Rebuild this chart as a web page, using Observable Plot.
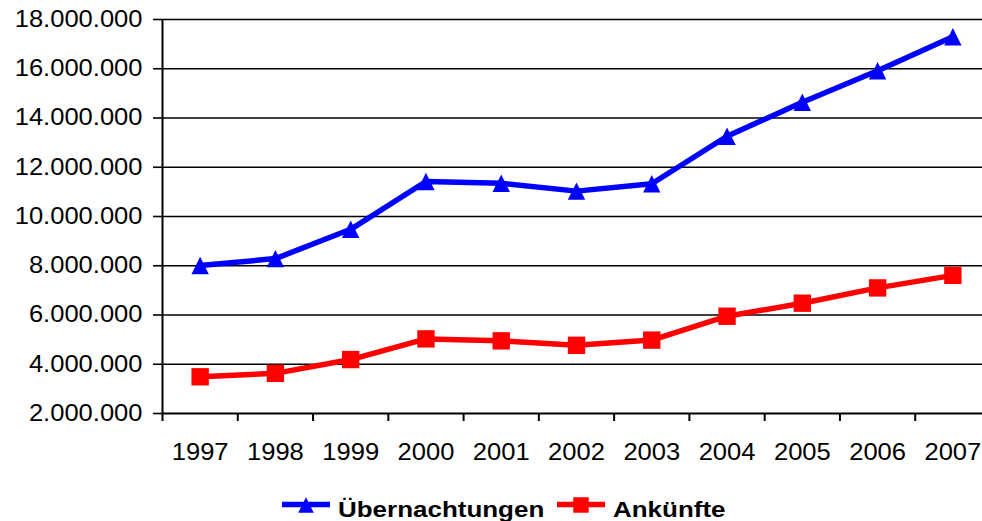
<!DOCTYPE html>
<html><head><meta charset="utf-8">
<script src="https://cdn.jsdelivr.net/npm/d3@7"></script>
<script src="https://cdn.jsdelivr.net/npm/@observablehq/plot@0.6"></script>
<style>
html,body{margin:0;padding:0;background:#fff;overflow:hidden;}
#chart{width:982px;height:521px;position:relative;}
svg{display:block;}
</style></head><body><div id="chart"></div>
<script>
const years = [1997, 1998, 1999, 2000, 2001, 2002, 2003, 2004, 2005, 2006, 2007];
const uebernachtungen = [8010000, 8290000, 9480000, 11420000, 11350000, 11030000, 11330000, 13260000, 14640000, 15920000, 17300000];
const ankuenfte = [3490000, 3630000, 4190000, 5030000, 4950000, 4770000, 4980000, 5950000, 6480000, 7100000, 7610000];
const yTicks = [2000000, 4000000, 6000000, 8000000, 10000000, 12000000, 14000000, 16000000, 18000000];
const seriesNames = ["Übernachtungen", "Ankünfte"];
const seriesColors = ["#0000ff", "#ff0000"];

const fmt = d3.formatLocale({decimal: ",", thousands: ".", grouping: [3], currency: ["", " €"]}).format(",d");

const rowsU = years.map((year, i) => ({year, value: uebernachtungen[i]}));
const rowsA = years.map((year, i) => ({year, value: ankuenfte[i]}));
const bounds = [...years.map(y => y - 0.5), years[years.length - 1] + 0.5];

const triangle = {draw(ctx, size) {
  const s = Math.sqrt(size);
  ctx.moveTo(0, -s / 2); ctx.lineTo(s / 2, s / 2); ctx.lineTo(-s / 2, s / 2); ctx.closePath();
}};
const square = d3.symbolSquare;

const FONT = "'Liberation Sans', Arial, Helvetica, sans-serif";

const plot = Plot.plot({
  width: 982, height: 470,
  marginLeft: 162, marginRight: 0, marginTop: 19, marginBottom: 57,
  x: {type: "linear", domain: [bounds[0], bounds[bounds.length - 1]], range: [162, 990], label: null},
  y: {domain: [yTicks[0], yTicks[yTicks.length - 1]], label: null},
  style: {fontFamily: FONT, fontSize: "23px", color: "#000", background: "#fff", overflow: "hidden"},
  marks: [
    Plot.ruleY(yTicks.slice(1), {stroke: "#000", strokeWidth: 1.6}),
    Plot.ruleY([yTicks[0]], {stroke: "#000", strokeWidth: 2}),
    Plot.ruleX([bounds[0]], {y1: yTicks[0], y2: yTicks[yTicks.length - 1], stroke: "#000", strokeWidth: 2}),
    Plot.axisY({ticks: yTicks, tickSize: 9, tickPadding: 11, tickFormat: fmt, stroke: "#000", strokeWidth: 1.6, label: null, fill: "#000"}),
    Plot.axisX({ticks: bounds, tickSize: 8, tickFormat: () => "", stroke: "#000", strokeWidth: 2, label: null}),
    Plot.axisX({ticks: years, tickSize: 0, tickPadding: 30, tickFormat: d => String(d), label: null, fill: "#000"}),
    Plot.line(rowsA, {x: "year", y: "value", stroke: seriesColors[1], strokeWidth: 5.5}),
    Plot.dot(rowsA, {x: "year", y: "value", symbol: square, r: 9.8, fill: seriesColors[1], stroke: "none"}),
    Plot.line(rowsU, {x: "year", y: "value", stroke: seriesColors[0], strokeWidth: 5.5}),
    Plot.dot(rowsU, {x: "year", y: "value", symbol: triangle, r: 9.8, fill: seriesColors[0], stroke: "none"})
  ]
});
const chart = document.getElementById("chart");
chart.appendChild(plot);

function stretch(root, k) {
  root.querySelectorAll("text").forEach(t => {
    const L = t.getComputedTextLength();
    if (L > 0) {
      t.setAttribute("textLength", (L * k).toFixed(2));
      t.setAttribute("lengthAdjust", "spacingAndGlyphs");
    }
  });
}
stretch(plot, 1.11);

// Legend
const legend = d3.create("svg").attr("width", 982).attr("height", 51)
  .style("font-family", FONT).style("font-size", "22px").style("font-weight", "bold");
const items = [
  {name: seriesNames[0], color: seriesColors[0], sym: triangle, x0: 282, x1: 330, tx: 338},
  {name: seriesNames[1], color: seriesColors[1], sym: square, x0: 557, x1: 605, tx: 613}
];
items.forEach(it => {
  const g = legend.append("g");
  g.append("line").attr("x1", it.x0).attr("x2", it.x1).attr("y1", 34.5).attr("y2", 34.5)
    .attr("stroke", it.color).attr("stroke-width", 5.5);
  g.append("path").attr("d", d3.symbol(it.sym, 240)()).attr("fill", it.color)
    .attr("transform", `translate(${(it.x0 + it.x1) / 2},35)`);
  g.append("text").attr("x", it.tx).attr("y", 46.7).attr("fill", "#000").text(it.name);
});
chart.appendChild(legend.node());
stretch(legend.node(), 1.18);
</script>
</body></html>
